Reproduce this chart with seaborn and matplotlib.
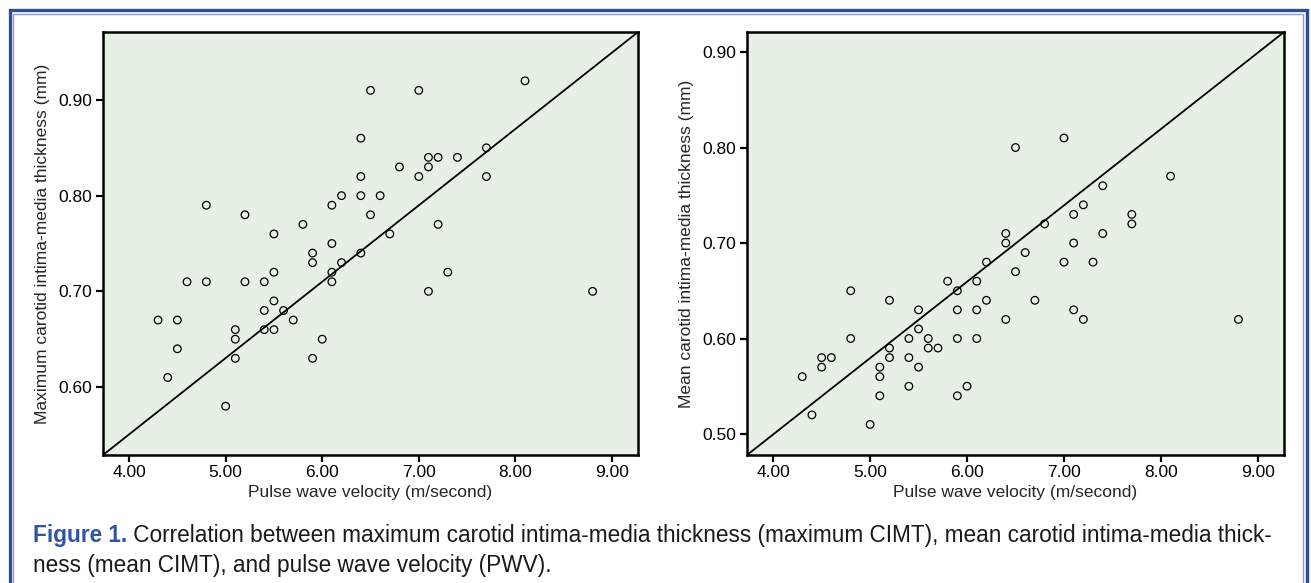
import numpy as np
import pandas as pd
import matplotlib
matplotlib.use("Agg")
import matplotlib.pyplot as plt
from matplotlib.lines import Line2D
from matplotlib.ticker import FormatStrFormatter
import seaborn as sns

# datos (PWV en m/s, CIMT en mm)
pwv_max = [4.3, 4.4, 4.5, 4.5, 4.6, 4.8, 4.8, 5.0, 5.1, 5.1, 5.1, 5.2, 5.2, 5.4, 5.4,
           5.4, 5.5, 5.5, 5.5, 5.5, 5.6, 5.7, 5.8, 5.9, 5.9, 5.9, 6.0, 6.1, 6.1, 6.1,
           6.1, 6.2, 6.2, 6.4, 6.4, 6.4, 6.4, 6.5, 6.5, 6.6, 6.7, 6.8, 7.0, 7.0, 7.1,
           7.1, 7.1, 7.2, 7.2, 7.3, 7.4, 7.7, 7.7, 8.1, 8.8]
max_cimt = [0.67, 0.61, 0.67, 0.64, 0.71, 0.79, 0.71, 0.58, 0.66, 0.65, 0.63, 0.78, 0.71, 0.71, 0.68,
            0.66, 0.76, 0.72, 0.69, 0.66, 0.68, 0.67, 0.77, 0.74, 0.73, 0.63, 0.65, 0.79, 0.75, 0.72,
            0.71, 0.80, 0.73, 0.86, 0.82, 0.80, 0.74, 0.91, 0.78, 0.80, 0.76, 0.83, 0.91, 0.82, 0.84,
            0.83, 0.70, 0.84, 0.77, 0.72, 0.84, 0.85, 0.82, 0.92, 0.70]

pwv_mean = [4.3, 4.4, 4.5, 4.5, 4.6, 4.8, 4.8, 5.0, 5.1, 5.1, 5.1, 5.2, 5.2, 5.2, 5.4,
            5.4, 5.4, 5.5, 5.5, 5.5, 5.6, 5.6, 5.7, 5.8, 5.9, 5.9, 5.9, 5.9, 6.0, 6.1,
            6.1, 6.1, 6.2, 6.2, 6.4, 6.4, 6.4, 6.5, 6.5, 6.6, 6.7, 6.8, 7.0, 7.0, 7.1,
            7.1, 7.1, 7.2, 7.2, 7.3, 7.4, 7.4, 7.7, 7.7, 8.1, 8.8]
mean_cimt = [0.56, 0.52, 0.58, 0.57, 0.58, 0.65, 0.60, 0.51, 0.57, 0.56, 0.54, 0.64, 0.59, 0.58, 0.60,
             0.58, 0.55, 0.63, 0.61, 0.57, 0.60, 0.59, 0.59, 0.66, 0.65, 0.63, 0.60, 0.54, 0.55, 0.66,
             0.63, 0.60, 0.68, 0.64, 0.71, 0.70, 0.62, 0.80, 0.67, 0.69, 0.64, 0.72, 0.81, 0.68, 0.73,
             0.70, 0.63, 0.74, 0.62, 0.68, 0.76, 0.71, 0.73, 0.72, 0.77, 0.62]

# linea de ajuste (intercepto, pendiente)
fit_max = (0.2314, 0.07978)
fit_mean = (0.1797, 0.07996)

x_ticks = [4.0, 5.0, 6.0, 7.0, 8.0, 9.0]
y_ticks_max = [0.60, 0.70, 0.80, 0.90]
y_ticks_mean = [0.50, 0.60, 0.70, 0.80, 0.90]

x_label = "Pulse wave velocity (m/second)"
y_label_max = "Maximum carotid intima-media thickness (mm)"
y_label_mean = "Mean carotid intima-media thickness (mm)"

caption_bold = "Figure 1."
caption_line1 = " Correlation between maximum carotid intima-media thickness (maximum CIMT), mean carotid intima-media thick-"
caption_line2 = "ness (mean CIMT), and pulse wave velocity (PWV)."

df_max = pd.DataFrame({"pwv": pwv_max, "cimt": max_cimt})
df_mean = pd.DataFrame({"pwv": pwv_mean, "cimt": mean_cimt})

sns.set_style("white")
plt.rcParams["font.family"] = ["Liberation Sans", "DejaVu Sans"]

W, H = 1311, 583
fig = plt.figure(figsize=(W / 100, H / 100), dpi=100)

panels = [
    (df_max, fit_max, y_ticks_max, (0.529, 0.971), y_label_max, [103, 638]),
    (df_mean, fit_mean, y_ticks_mean, (0.478, 0.921), y_label_mean, [747, 1284]),
]

for df, fit, yt, ylim, ylab, (x0, x1) in panels:
    ax = fig.add_axes([x0 / W, 1 - 455 / H, (x1 - x0) / W, (455 - 32) / H])
    ax.set_facecolor("#e7f0e5")
    sns.scatterplot(data=df, x="pwv", y="cimt", ax=ax, marker="o", s=30,
                    facecolors="none", edgecolor="black", linewidth=0.9, zorder=3)
    ax.axline((0, fit[0]), slope=fit[1], color="black", linewidth=1.3, zorder=2)
    ax.set_xlim(3.73, 9.27)
    ax.set_ylim(*ylim)
    ax.set_xticks(x_ticks)
    ax.set_yticks(yt)
    ax.xaxis.set_major_formatter(FormatStrFormatter("%.2f"))
    ax.yaxis.set_major_formatter(FormatStrFormatter("%.2f"))
    ax.tick_params(axis="both", direction="out", length=5, width=1.6,
                   labelsize=12.5, pad=2.5, bottom=True, left=True, colors="black")
    for sp in ax.spines.values():
        sp.set_linewidth(1.8)
        sp.set_color("black")
    ax.set_xlabel(x_label, fontsize=12.5, labelpad=3)
    ax.set_ylabel(ylab, fontsize=12.5, labelpad=6)

# marco azul
def frame(x_l, x_r, y_t, color, lw):
    yb = -0.01
    xs = [x_l / W, x_l / W, x_r / W, x_r / W]
    ys = [yb, 1 - y_t / H, 1 - y_t / H, yb]
    fig.add_artist(Line2D(xs, ys, transform=fig.transFigure, color=color,
                          linewidth=lw, solid_joinstyle="miter"))

frame(9.5, 1306.5, 10.3, "#2d4c9c", 2.4)
frame(13.2, 1302.8, 13.8, "#8a9ed2", 1.0)

# pie de figura: ajustar tamaño para que la primera linea llegue al margen derecho
cap_left, cap_right = 33, 1279
cap_y1 = 1 - 542 / H
cap_y2 = 1 - 572 / H
size = 15
t1 = fig.text(cap_left / W, cap_y1, caption_bold, fontsize=size, fontweight="bold",
              color="#2f55a4", va="baseline", ha="left")
t2 = fig.text(0, cap_y1, caption_line1, fontsize=size, color="#1a1a1a",
              va="baseline", ha="left")
fig.canvas.draw()
r = fig.canvas.get_renderer()
total = t1.get_window_extent(r).width + t2.get_window_extent(r).width
size = size * (cap_right - cap_left) / total
t1.set_fontsize(size)
t2.set_fontsize(size)
fig.canvas.draw()
t2.set_x(t1.get_window_extent(r).x1 / W)
fig.text(cap_left / W, cap_y2, caption_line2, fontsize=size, color="#1a1a1a",
         va="baseline", ha="left")

fig.savefig("out.png", dpi=100)
